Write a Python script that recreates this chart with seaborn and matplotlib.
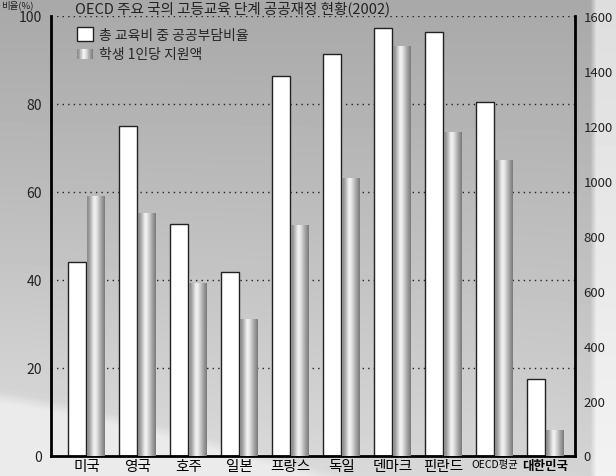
import numpy as np
import pandas as pd
import matplotlib
matplotlib.use("Agg")
import matplotlib.pyplot as plt
import seaborn as sns
from matplotlib.patches import Rectangle, Patch
from matplotlib.legend_handler import HandlerBase
from matplotlib.colors import LinearSegmentedColormap

# ---------------- data ----------------
categories = ['미국', '영국', '호주', '일본', '프랑스', '독일', '덴마크', '핀란드', 'OECD평균', '대한민국']
public_share = [44.0, 75.0, 52.7, 41.8, 86.3, 91.4, 97.3, 96.3, 80.4, 17.4]      # % (left axis)
per_student = [944, 883, 628, 497, 839, 1010, 1491, 1178, 1076, 93]              # right axis
series_names = ['총 교육비 중 공공부담비율', '학생 1인당 지원액']
left_ticks = [0, 20, 40, 60, 80, 100]
right_ticks = [0, 200, 400, 600, 800, 1000, 1200, 1400, 1600]
title_text = 'OECD 주요 국의 고등교육 단계 공공재정 현황(2002)'
unit_text = '비율(%)'

sns.set_style('white')
plt.rcParams['font.family'] = ['Liberation Sans Narrow', 'Noto Sans CJK KR', 'DejaVu Sans']

W, H = 616, 477
fig = plt.figure(figsize=(W / 100, H / 100), dpi=100)

# ---------------- background ----------------
yp, xp = np.mgrid[0:H, 0:W].astype(float)
yn = yp / H
xn = xp / W
arr = 0.66 + 0.17 * yn + 0.05 * (1 - xn) * yn ** 2
yc = 392 + 80 * (np.clip(xp, 0, 360) / 330) ** 1.2
t = np.clip((yp - yc) / 12, 0, 1) * (xp < 380)
arr = arr * (1 - t) + 0.92 * t
t2 = np.clip((xp - 590) / 6, 0, 1)
arr = arr * (1 - t2) + (0.87 + 0.08 * yn) * t2
bg = fig.add_axes([0, 0, 1, 1], zorder=0)
bg.imshow(arr, cmap='gray', vmin=0, vmax=1, aspect='auto', interpolation='bilinear')
bg.axis('off')

# ---------------- axes ----------------
ax = fig.add_axes([50.5 / W, 20.5 / H, 524.5 / W, 439.5 / H], zorder=1)
ax.set_facecolor('none')
ax2 = ax.twinx()

df = pd.DataFrame({
    '국가': categories * 2,
    '값': public_share + per_student,
    '계열': [series_names[0]] * len(categories) + [series_names[1]] * len(categories),
})
palette = {series_names[0]: 'white', series_names[1]: '#b4b4b4'}

sns.barplot(data=df[df['계열'] == series_names[0]], x='국가', y='값', hue='계열',
            hue_order=series_names, order=categories, palette=palette, saturation=1,
            width=0.74, gap=0.06, dodge=True, errorbar=None, edgecolor='#222222',
            linewidth=1.0, legend=False, ax=ax, zorder=2)
sns.barplot(data=df[df['계열'] == series_names[1]], x='국가', y='값', hue='계열',
            hue_order=series_names, order=categories, palette=palette, saturation=1,
            width=0.74, gap=0.06, dodge=True, errorbar=None, edgecolor='none',
            linewidth=0, legend=False, ax=ax2, zorder=2)

# cylinder-like gradient on the grey bars
grad_cmap = LinearSegmentedColormap.from_list('cyl', [
    (0.0, '#8a8a8a'), (0.12, '#9c9c9c'), (0.4, '#f4f4f4'), (0.52, '#e8e8e8'),
    (0.8, '#a4a4a4'), (1.0, '#7a7a7a')])
grad = np.linspace(0, 1, 64)[None, :]
for p in list(ax2.patches):
    h = p.get_height()
    if not np.isfinite(h) or h == 0:
        continue
    x0, y0, w = p.get_x(), p.get_y(), p.get_width()
    im = ax2.imshow(grad, extent=[x0, x0 + w, y0, y0 + h], aspect='auto', cmap=grad_cmap,
                    vmin=0, vmax=1, interpolation='bilinear', zorder=p.get_zorder() + 0.1)
    im.set_clip_path(p)

# grid
ax.set_yticks(left_ticks)
ax.yaxis.grid(True, linestyle=(0, (1, 3)), color='#222222', linewidth=1.0)
ax.xaxis.grid(False)
ax.set_axisbelow(True)
ax2.set_yticks(right_ticks)
ax2.grid(False)

# spines
for s in ['top', 'right']:
    ax.spines[s].set_visible(False)
for s in ['left', 'bottom']:
    ax.spines[s].set_linewidth(2)
    ax.spines[s].set_color('black')
for s in ['top', 'left', 'bottom']:
    ax2.spines[s].set_visible(False)
ax2.spines['right'].set_linewidth(2)
ax2.spines['right'].set_color('black')

ax.tick_params(axis='y', length=0, pad=6, labelsize=10, colors='#222222')
ax.tick_params(axis='x', length=0, pad=2.5, labelsize=10.5, colors='black')
ax2.tick_params(axis='y', length=0, pad=6, labelsize=9.5, colors='#222222')
ax.set_xlabel('')
ax.set_ylabel('')
ax2.set_xlabel('')
ax2.set_ylabel('')

for lab in ax.get_xticklabels():
    lab.set_family(['Noto Sans CJK KR', 'DejaVu Sans'])
    if lab.get_text() == '대한민국':
        lab.set_fontweight('bold')
        lab.set_fontsize(9)
    if lab.get_text() == 'OECD평균':
        lab.set_family(['Liberation Sans Narrow', 'Noto Sans CJK KR'])
        lab.set_fontsize(7.5)

ax.set_xlim(-0.708, 9.576)
ax.set_ylim(0, 100)
ax2.set_ylim(0, 1600)


# ---------------- legend ----------------
class GradHandler(HandlerBase):
    def create_artists(self, legend, orig_handle, xdescent, ydescent, width, height, fontsize, trans):
        n = 24
        hh = height * 0.72
        yb = -ydescent + (height - hh) / 2
        arts = []
        for i in range(n):
            arts.append(Rectangle((-xdescent + i * width / n, yb), width / n + 0.3, hh,
                                  facecolor=grad_cmap((i + 0.5) / n), edgecolor='none',
                                  transform=trans))
        return arts


white_handle = Patch(facecolor='white', edgecolor='#222222', linewidth=1)
grad_handle = Patch(facecolor='#b4b4b4')
ax2.legend([white_handle, grad_handle], series_names, loc='upper left',
           bbox_to_anchor=(77 / W, 1 - 28 / H), bbox_transform=fig.transFigure,
           frameon=False, handlelength=1.15, handleheight=1.2, handletextpad=0.45,
           labelspacing=0.35, borderpad=0, borderaxespad=0,
           prop={'family': ['Noto Sans CJK KR', 'DejaVu Sans'], 'size': 10},
           handler_map={grad_handle: GradHandler()})

# ---------------- title (kept inside the canvas) ----------------
fig.text(75 / W, 1 - 1 / H, title_text, ha='left', va='top', fontsize=10.5,
         family=['Noto Sans CJK KR', 'DejaVu Sans'], color='#222222')
fig.text(1 / W, 1 - 0.5 / H, unit_text, ha='left', va='top', fontsize=6.8,
         family=['Noto Sans CJK KR', 'DejaVu Sans'], color='#222222')

fig.savefig('out.png', dpi=100)
